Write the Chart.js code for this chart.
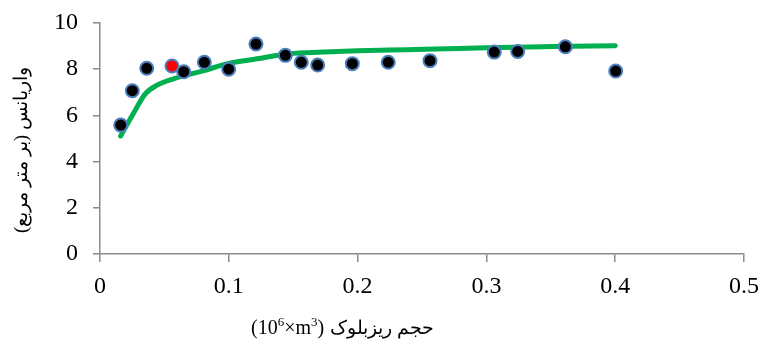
<!DOCTYPE html>
<html>
<head>
<meta charset="utf-8">
<script src="https://cdn.jsdelivr.net/npm/chart.js@4/dist/chart.umd.min.js"></script>
<style>
  html, body { margin: 0; padding: 0; background: #fff; }
  #wrap { width: 761px; height: 344px; }
</style>
</head>
<body>
<div id="wrap"><canvas id="chart" width="761" height="344"></canvas></div>
<script>
// measured points
const volumeX = [0.0161, 0.0251, 0.0363, 0.0559, 0.065, 0.081, 0.0999, 0.1211, 0.1439, 0.1563, 0.169, 0.1959, 0.2238, 0.2562, 0.3061, 0.3243, 0.3613, 0.4004];
const varianceY = [5.58, 7.07, 8.04, 8.14, 7.89, 8.30, 8.00, 9.09, 8.60, 8.30, 8.18, 8.24, 8.30, 8.37, 8.74, 8.77, 8.97, 7.92];
const highlightIndex = 3;

// fitted curve
const fitX = [0.016, 0.026, 0.035, 0.044, 0.057, 0.08, 0.1, 0.12, 0.147, 0.173, 0.2, 0.225, 0.26, 0.3, 0.35, 0.4];
const fitY = [5.11, 6.09, 6.92, 7.3, 7.58, 7.93, 8.25, 8.43, 8.67, 8.74, 8.8, 8.83, 8.87, 8.93, 8.98, 9.02];

const xTicks = [0, 0.1, 0.2, 0.3, 0.4, 0.5];
const yTicks = [0, 2, 4, 6, 8, 10];

const yTitle = "واریانس (بر متر مربع)";
// x title pieces: unit (drawn left to right, with real superscripts) then the persian words
const xTitleUnit = [["(10", false], ["6", true], ["×m", false], ["3", true], [")", false]];
const xTitleWords = "حجم ریزبلوک";

const axisGray = "#8a8a8a";
const serif = "'Liberation Serif', 'Times New Roman', serif";
const tickFont = { family: serif, size: 24 };

const titlesPlugin = {
    id: "rtlTitles",
    afterDraw(chart) {
        const ctx = chart.ctx;
        ctx.save();
        ctx.fillStyle = "#000";
        ctx.textBaseline = "alphabetic";
        ctx.textAlign = "left";

        // x title
        let x = 251;
        const base = 334;
        xTitleUnit.forEach(([txt, sup]) => {
            ctx.font = sup ? "13px " + serif : "20px " + serif;
            ctx.fillText(txt, x, sup ? base - 8 : base);
            x += ctx.measureText(txt).width;
        });
        x += 6;
        ctx.font = "19px " + serif;
        ctx.direction = "rtl";
        ctx.textAlign = "right";
        ctx.fillText(xTitleWords, x + ctx.measureText(xTitleWords).width, base);

        // y title
        ctx.textAlign = "center";
        ctx.textBaseline = "middle";
        ctx.translate(22, 150);
        ctx.rotate(-Math.PI / 2);
        ctx.fillText(yTitle, 0, 0);
        ctx.restore();
    }
};

const ctx = document.getElementById("chart").getContext("2d");
new Chart(ctx, {
    type: "scatter",
    data: {
        datasets: [{
            type: "line",
            data: fitX.map((x, i) => ({ x: x, y: fitY[i] })),
            borderColor: "#00b050",
            borderWidth: 5,
            pointRadius: 0,
            cubicInterpolationMode: "monotone",
            borderCapStyle: "round",
            fill: false,
            order: 2
        }, {
            data: volumeX.map((x, i) => ({ x: x, y: varianceY[i] })),
            backgroundColor: varianceY.map((v, i) => i === highlightIndex ? "#ff0000" : "#000000"),
            borderColor: "#4a7ebb",
            borderWidth: 2,
            pointRadius: 6.5,
            order: 1
        }]
    },
    options: {
        responsive: false,
        animation: false,
        layout: { padding: { left: 0, right: 17, top: 23, bottom: 0 } },
        plugins: {
            legend: { display: false },
            tooltip: { enabled: false }
        },
        scales: {
            x: {
                type: "linear",
                min: 0,
                max: 0.5,
                afterBuildTicks: (axis) => { axis.ticks = xTicks.map(v => ({ value: v })); },
                afterFit: (axis) => { axis.height = 90; axis.paddingLeft = 0; axis.paddingRight = 0; },
                border: { color: axisGray, width: 1.5 },
                grid: { drawOnChartArea: false, drawTicks: true, tickLength: 8, color: axisGray, tickColor: axisGray, lineWidth: 1.5 },
                ticks: { color: "#000", font: tickFont, padding: 10, maxRotation: 0 }
            },
            y: {
                min: 0,
                max: 10,
                afterBuildTicks: (axis) => { axis.ticks = yTicks.map(v => ({ value: v })); },
                afterFit: (axis) => { axis.width = 100; axis.paddingTop = 0; axis.paddingBottom = 0; },
                border: { color: axisGray, width: 1.5 },
                grid: { drawOnChartArea: false, drawTicks: true, tickLength: 7, color: axisGray, tickColor: axisGray, lineWidth: 1.5 },
                ticks: { color: "#000", font: tickFont, padding: 15 }
            }
        }
    },
    plugins: [titlesPlugin]
});
</script>
</body>
</html>
